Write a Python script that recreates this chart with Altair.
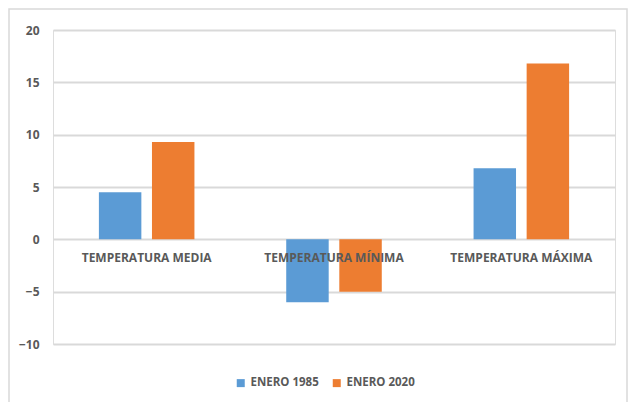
import altair as alt
import pandas as pd

categories = ["TEMPERATURA MEDIA", "TEMPERATURA MÍNIMA", "TEMPERATURA MÁXIMA"]
series = ["ENERO 1985", "ENERO 2020"]
values_1985 = [4.5, -6.0, 6.8]
values_2020 = [9.3, -5.0, 16.8]
colors = ["#5B9BD5", "#ED7D31"]

rows = []
for c, a, b in zip(categories, values_1985, values_2020):
    rows.append({"cat": c, "serie": series[0], "val": a})
    rows.append({"cat": c, "serie": series[1], "val": b})
df = pd.DataFrame(rows)
labels_df = pd.DataFrame({"cat": categories})

FONT = "Open Sans"
W, H = 562, 314

xscale = alt.Scale(domain=categories, paddingInner=0.49, paddingOuter=0.245)
yscale = alt.Scale(domain=[-10, 20], nice=False)

bars = alt.Chart(df).mark_bar().encode(
    x=alt.X("cat:N", scale=xscale, axis=None, sort=categories),
    xOffset=alt.XOffset("serie:N", scale=alt.Scale(paddingInner=0.2), sort=series),
    y=alt.Y("val:Q", scale=yscale,
            axis=alt.Axis(values=[-10, -5, 0, 5, 10, 15, 20], title=None, domain=False,
                          ticks=False, labelPadding=14, grid=True, gridColor="#d9d9d9",
                          gridWidth=1.8, labelColor="#595959", labelFont=FONT,
                          labelFontSize=12, labelFontWeight="bold")),
    color=alt.Color("serie:N", scale=alt.Scale(domain=series, range=colors),
                    legend=alt.Legend(title=None, orient="none", direction="horizontal",
                                      legendX=182, legendY=347, symbolType="square",
                                      symbolSize=64, labelFont=FONT, labelFontSize=11.5,
                                      labelFontWeight="bold", labelColor="#595959",
                                      columnPadding=12, labelOffset=4,
                                      symbolStrokeWidth=0)),
)

cat_labels = alt.Chart(labels_df).mark_text(
    dy=19, font=FONT, fontSize=12, fontWeight="bold", color="#595959"
).encode(
    x=alt.X("cat:N", scale=xscale, sort=categories),
    y=alt.datum(0),
    text="cat:N",
)

frame = alt.Chart(labels_df.head(1)).mark_rect(
    fill=None, stroke="#d9d9d9", strokeWidth=1.5
).encode(
    x=alt.value(-44), x2=alt.value(W + 12), y=alt.value(-21), y2=alt.value(H + 80)
)

chart = alt.layer(frame, bars, cat_labels).properties(
    width=W, height=H,
    padding={"left": 45, "top": 22, "right": 13, "bottom": 58},
    autosize=alt.AutoSizeParams(type="none"),
).configure_view(stroke=None).configure(background="white")

chart.save("out.html", embed_options={"renderer": "svg", "actions": False})
